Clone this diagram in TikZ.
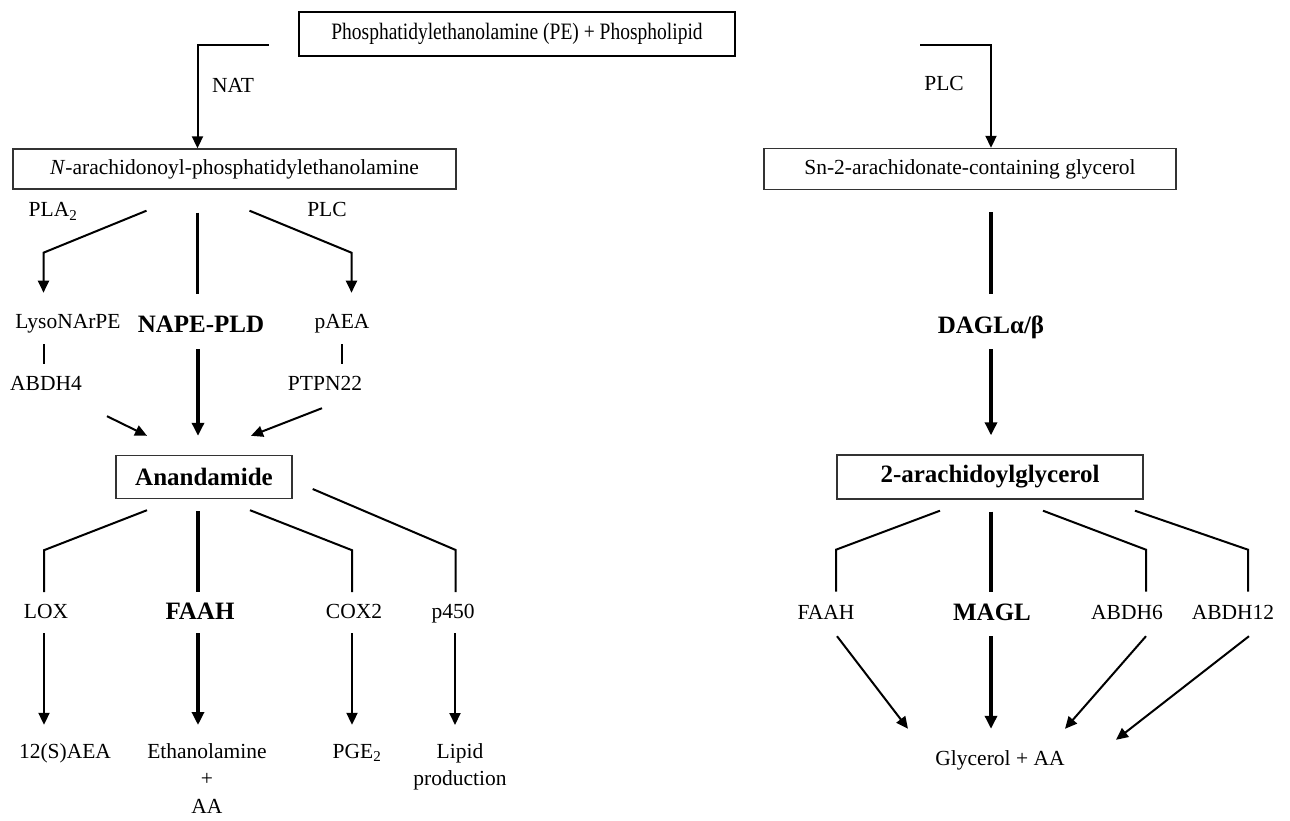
\documentclass[tikz,border=0pt]{standalone}
\usepackage{fontspec}
\setmainfont{Liberation Serif}
\usetikzlibrary{arrows.meta,calc}

\newcommand{\lblfont}{\fontsize{21.5}{27.5}\selectfont}
\newcommand{\bldfont}{\fontsize{25}{30}\selectfont\bfseries}

\begin{document}
\begin{tikzpicture}[x=1pt, y=-1pt,
    topbox/.style={draw, line width=2.4pt, minimum width=436pt, minimum height=44pt, inner sep=0pt, font=\fontsize{23.5}{28}\selectfont},
    box/.style={draw=black!80, line width=1.4pt, inner sep=0pt, font=\lblfont},
    lbl/.style={inner sep=0pt, text height=15pt, text depth=5pt, font=\lblfont},
    blbl/.style={inner sep=0pt, text height=18pt, text depth=6pt, font=\bldfont},
    multi/.style={inner sep=0pt, anchor=north, align=center, font=\lblfont},
    line/.style={line width=2pt},
    tline/.style={line width=3.2pt},
    arr/.style={line width=2pt, -{Triangle[length=12pt,width=11pt]}},
    tarr/.style={line width=3.2pt, -{Triangle[length=13pt,width=12pt]}},
]
\useasboundingbox (0,0) rectangle (1290,821);

% Boxes
\node[topbox] (top) at (517,34) {\scalebox{0.83}[1]{Phosphatidylethanolamine (PE) + Phospholipid}};
\node[box, minimum width=443pt, minimum height=40pt] (nape) at (234.5,169) {\textit{N}-arachidonoyl-phosphatidylethanolamine};
\node[box, minimum width=412pt, minimum height=41pt] (sn) at (970,169) {Sn-2-arachidonate-containing glycerol};
\node[box, font=\bldfont, minimum width=176pt, minimum height=43pt] (aea) at (204,477) {Anandamide};
\node[box, font=\bldfont, minimum width=306pt, minimum height=44pt] (ag) at (990,477) {2-arachidoylglycerol};

% Enzymes - synthesis
\node[lbl] (nat) at (233,88) {NAT};
\node[lbl] (plcr) at (944,86) {PLC};
\node[lbl] (pla) at (53,212) {PLA\textsubscript{2}};
\node[lbl] (plcl) at (327,212) {PLC};
\node[lbl] (lyso) at (68,323) {LysoNArPE};
\node[blbl] (napepld) at (201,326) {NAPE-PLD};
\node[lbl] (paea) at (342,323) {pAEA};
\node[lbl] (abdh4) at (46,385) {ABDH4};
\node[lbl] (ptpn) at (325,385) {PTPN22};
\node[blbl] (dagl) at (991,327) {DAGLα/β};

% Enzymes - degradation
\node[lbl] (lox) at (46,613) {LOX};
\node[blbl] (faah) at (200,613) {FAAH};
\node[lbl] (cox) at (354,613) {COX2};
\node[lbl] (cyp) at (453,613) {p450};
\node[lbl] (faahr) at (826,614) {FAAH};
\node[blbl] (magl) at (992,614) {MAGL};
\node[lbl] (abdh6) at (1127,614) {ABDH6};
\node[lbl] (abdh12) at (1233,614) {ABDH12};

% Products
\node[lbl] (hete) at (65,753) {12(S)AEA};
\node[multi] (etha) at (207,743) {Ethanolamine\\+\\AA};
\node[lbl] (pge) at (357,753) {PGE\textsubscript{2}};
\node[multi] (lipid) at (460,743) {Lipid\\production};
\node[lbl] (gly) at (1000,760) {Glycerol + AA};

% Top split
\draw[arr] ($(top.west)+(-29,11)$) -| ($(nape.north)+(-37,0)$);
\draw[arr] ($(top.east)+(184,11)$) -| ($(sn.north)+(21,0)$);

% NAPE -> anandamide
\draw[arr] ($(nape.south)+(-88,21)$) -- ++(-103,42) -- ++(0,40);
\draw[tline] ($(nape.south)+(-37,23)$) -- ++(0,81);
\draw[arr] ($(nape.south)+(15,21)$) -- ++(102,42) -- ++(0,40);
\draw[line] ($(lyso.south)+(-24,11)$) -- ++(0,20);
\draw[line] ($(paea.south)+(0,11)$) -- ++(0,20);
\draw[arr] ($(abdh4.south)+(61,21)$) -- ($(aea.north)+(-57,-19)$);
\draw[tarr] ($(napepld.south)+(-3,11)$) -- ($(aea.north)+(-6,-19)$);
\draw[arr] ($(ptpn.south)+(-3,13)$) -- ($(aea.north)+(47,-19)$);

% anandamide breakdown
\draw[line] ($(aea.south)+(-57,11)$) -- ++(-103,40) -- ++(0,42);
\draw[tline] ($(aea.south)+(-6,12)$) -- ++(0,81);
\draw[line] ($(aea.south)+(46,11)$) -- ++(102,40) -- ++(0,42);
\draw[line] ($(aea.east)+(20,12)$) -- ++(143,61) -- ++(0,42);
\draw[arr] ($(lox.south)+(-2,10)$) -- ($(hete.north)+(-21,-18)$);
\draw[tarr] ($(faah.south)+(-2,8)$) -- ($(etha.north)+(-9,-18)$);
\draw[arr] ($(cox.south)+(-2,10)$) -- ($(pge.north)+(-5,-18)$);
\draw[arr] ($(cyp.south)+(2,10)$) -- ($(lipid.north)+(-5,-18)$);

% Sn-2 -> 2-AG
\draw[tline] ($(sn.south)+(21,22)$) -- ++(0,82);
\draw[tarr] ($(dagl.south)+(0,10)$) -- ($(ag.north)+(1,-19)$);

% 2-AG breakdown
\draw[line] ($(ag.south)+(-50,11)$) -- ++(-104,39) -- ++(0,42);
\draw[tline] ($(ag.south)+(1,12)$) -- ++(0,80);
\draw[line] ($(ag.south)+(53,11)$) -- ++(103,39) -- ++(0,42);
\draw[line] ($(ag.south)+(145,11)$) -- ++(113,39) -- ++(0,42);
\draw[arr] ($(faahr.south)+(11,12)$) -- ($(gly.north)+(-92,-21)$);
\draw[tarr] ($(magl.south)+(-1,10)$) -- ($(gly.north)+(-9,-21)$);
\draw[arr] ($(abdh6.south)+(19,12)$) -- ($(gly.north)+(65,-21)$);
\draw[arr] ($(abdh12.south)+(16,12)$) -- ($(gly.north)+(116,-10)$);

\end{tikzpicture}
\end{document}
